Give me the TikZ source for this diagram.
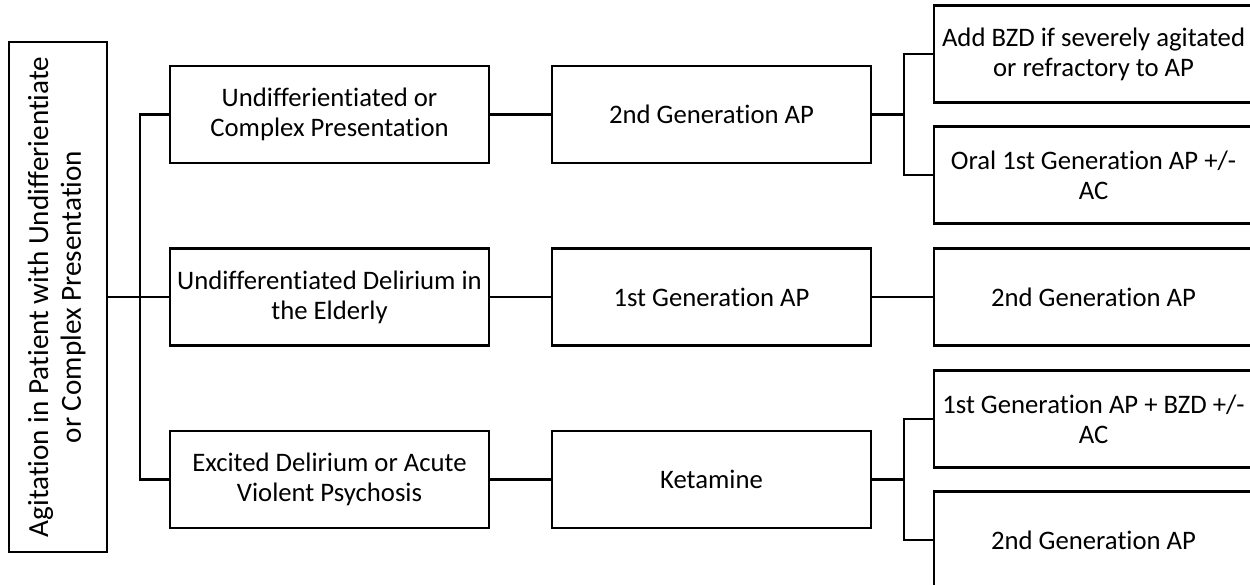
\documentclass[tikz,border=0pt]{standalone}
\usepackage{fontspec}
\setmainfont[Ligatures=NoCommon]{Carlito}
\usetikzlibrary{trees}

\begin{document}
\begin{tikzpicture}[line width=1.4pt]
        \tikzstyle{stepbox}=[rectangle,draw,align=center,minimum width=6.38cm,minimum height=1.94cm,inner sep=2pt,font=\fontsize{15.2}{17}\selectfont]
        \tikzstyle{rootbox}=[rectangle,draw,minimum width=1.96cm,minimum height=10.2cm,inner sep=0pt,font=\fontsize{16.6}{18.5}\selectfont]
        \tikzstyle{fork}=[edge from parent path={(\tikzparentnode.east) -- +(0.63cm,0) |- (\tikzchildnode.west)}]
        \tikzstyle{every node}=[stepbox]
        \path[use as bounding box,clip] (0,0) rectangle (25,-11.68);
        \node[rootbox] (agit) at (1.16,-5.94) {\rotatebox{90}{\begin{tabular}{@{}c@{}}Agitation in Patient with Undifferientiate\\or Complex Presentation\end{tabular}}}
        [grow'=right,fork,
         level 1/.style={level distance=5.43cm,sibling distance=3.65cm},
         level 2/.style={level distance=7.64cm},
         level 3/.style={level distance=7.64cm,sibling distance=2.42cm}]
        child {node (complex) {Undifferientiated or\\Complex Presentation}
            child {node (gen2a) {2nd Generation AP}
                child {node (addbzd) {Add BZD if severely agitated\\or refractory to AP}}
                child {node (oral) {Oral 1st Generation AP +/-\\AC}}}}
        child {node (elderly) {Undifferentiated Delirium in\\the Elderly}
            child {node (gen1a) {1st Generation AP}
                child {node (gen2b) {2nd Generation AP}}}}
        child {node (excited) {Excited Delirium or Acute\\Violent Psychosis}
            child {node (ketamine) {Ketamine}
                child {node (gen1bzd) {1st Generation AP + BZD +/-\\AC}}
                child {node (gen2c) {2nd Generation AP}}}}
    ;\end{tikzpicture}
\end{document}
